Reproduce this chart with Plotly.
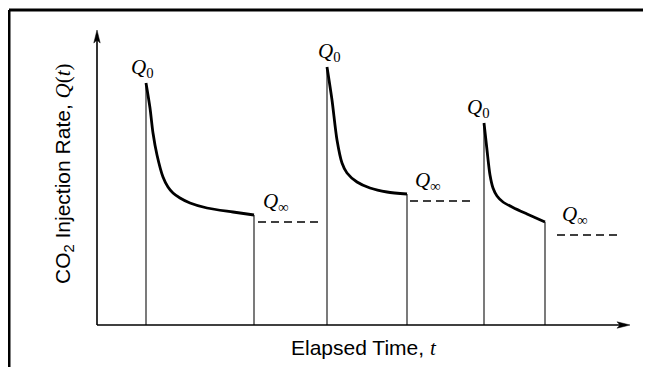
import plotly.graph_objects as go

# ---- data (elapsed time t, injection rate Q) ----
p1_t = [0.98, 1.06, 1.12, 1.20, 1.32, 1.42, 1.52, 1.66, 1.86, 2.20, 2.72, 3.14]
p1_q = [4.84, 4.34, 3.84, 3.40, 2.96, 2.76, 2.64, 2.54, 2.44, 2.34, 2.26, 2.20]
p2_t = [4.60, 4.70, 4.80, 4.90, 5.00, 5.20, 5.46, 5.80, 6.20]
p2_q = [5.16, 4.50, 3.70, 3.24, 3.04, 2.86, 2.74, 2.66, 2.62]
p3_t = [7.74, 7.80, 7.86, 7.92, 8.00, 8.12, 8.32, 8.60, 8.96]
p3_q = [4.04, 3.50, 3.00, 2.74, 2.58, 2.46, 2.35, 2.22, 2.06]

qinf_levels = [2.06, 2.48, 1.80]
qinf_t0 = [3.22, 6.26, 9.20]
qinf_t1 = [4.42, 7.50, 10.40]

t_axis_max = 10.66
q_axis_max = 5.90

x_title = "Elapsed Time, <span style=\"font-family:'Liberation Serif'\"><i>t</i></span>"
y_title = ("CO<sub>2</sub> Injection Rate, "
           "<span style=\"font-family:'Liberation Serif'\"><i>Q</i>(<i>t</i>)</span>")
q0_label = "<i>Q</i><sub>0</sub>"
qinf_label = "<i>Q</i><sub>\u221e</sub>"

# page body has an 8px margin: figure is placed at (8, 8) in the window
OFF = 8
W, H = 651 - OFF, 367 - OFF
OX, OY = 97 - OFF, 325 - OFF   # axis origin inside the figure (pixels)
S = 50.0                        # pixels per data unit


def px(x):
    return (x - OFF) / W


def py(y):
    return 1 - (y - OFF) / H


pulses = [(p1_t, p1_q), (p2_t, p2_q), (p3_t, p3_q)]

fig = go.Figure()

# vertical pulse boundaries
for t, q in pulses:
    fig.add_trace(go.Scatter(
        x=[t[0], t[0], None, t[-1], t[-1]],
        y=[0, q[0], None, 0, q[-1]],
        mode="lines", line=dict(color="#222222", width=1.2),
        hoverinfo="skip", showlegend=False))

# decay curves
for t, q in pulses:
    fig.add_trace(go.Scatter(
        x=t, y=q, mode="lines",
        line=dict(color="black", width=2.8, shape="spline", smoothing=0.8),
        hoverinfo="skip", showlegend=False))

# asymptotic levels
for lv, a, b in zip(qinf_levels, qinf_t0, qinf_t1):
    fig.add_trace(go.Scatter(
        x=[a, b], y=[lv, lv], mode="lines",
        line=dict(color="black", width=1.4, dash="8px,5px"),
        hoverinfo="skip", showlegend=False))

shapes = []
# axes lines
shapes.append(dict(type="line", xref="x", yref="y", x0=0, y0=0, x1=t_axis_max - 0.1, y1=0,
                   line=dict(color="black", width=1.6)))
shapes.append(dict(type="line", xref="x", yref="y", x0=0, y0=0, x1=0, y1=q_axis_max - 0.1,
                   line=dict(color="black", width=1.6)))
# arrowheads
shapes.append(dict(type="path", xref="x", yref="y", xsizemode="pixel", ysizemode="pixel",
                   xanchor=t_axis_max, yanchor=0,
                   path="M0,0 L-13,3.2 L-10,0 L-13,-3.2 Z",
                   fillcolor="black", line=dict(color="black", width=0.5)))
shapes.append(dict(type="path", xref="x", yref="y", xsizemode="pixel", ysizemode="pixel",
                   xanchor=0, yanchor=q_axis_max,
                   path="M0,0 L-3.2,-13 L0,-10 L3.2,-13 Z",
                   fillcolor="black", line=dict(color="black", width=0.5)))
# frame
shapes.append(dict(type="line", xref="paper", yref="paper",
                   x0=px(9), y0=py(10), x1=1.02, y1=py(10),
                   line=dict(color="black", width=3)))
shapes.append(dict(type="line", xref="paper", yref="paper",
                   x0=px(9), y0=py(10), x1=px(9), y1=-0.02,
                   line=dict(color="black", width=3)))

annotations = []
serif = dict(family="Liberation Serif", size=21, color="black")
sans = dict(family="Liberation Sans, Arial", size=21, color="black")

q0_shift = [-4, 2, -6]
for (t, q), xs in zip(pulses, q0_shift):
    annotations.append(dict(x=t[0], y=q[0], xref="x", yref="y", text=q0_label,
                            showarrow=False, xanchor="center", yanchor="bottom",
                            xshift=xs, yshift=0, font=serif))
for lv, a in zip(qinf_levels, qinf_t0):
    annotations.append(dict(x=a, y=lv, xref="x", yref="y", text=qinf_label,
                            showarrow=False, xanchor="left", yanchor="bottom",
                            xshift=3, yshift=5, font=serif))

annotations.append(dict(x=px(364), y=py(348), xref="paper", yref="paper",
                        text=x_title, showarrow=False, xanchor="center", yanchor="middle",
                        font=sans))
annotations.append(dict(x=px(64), y=py(174), xref="paper", yref="paper",
                        text=y_title, showarrow=False, xanchor="center", yanchor="middle",
                        textangle=-90, font=sans))

fig.update_layout(
    width=W, height=H,
    margin=dict(l=0, r=0, t=0, b=0),
    paper_bgcolor="white", plot_bgcolor="white",
    xaxis=dict(range=[-OX / S, (W - OX) / S], visible=False, fixedrange=True),
    yaxis=dict(range=[(OY - H) / S, OY / S], visible=False, fixedrange=True),
    shapes=shapes, annotations=annotations,
    showlegend=False,
)

fig.write_html("out.html")
